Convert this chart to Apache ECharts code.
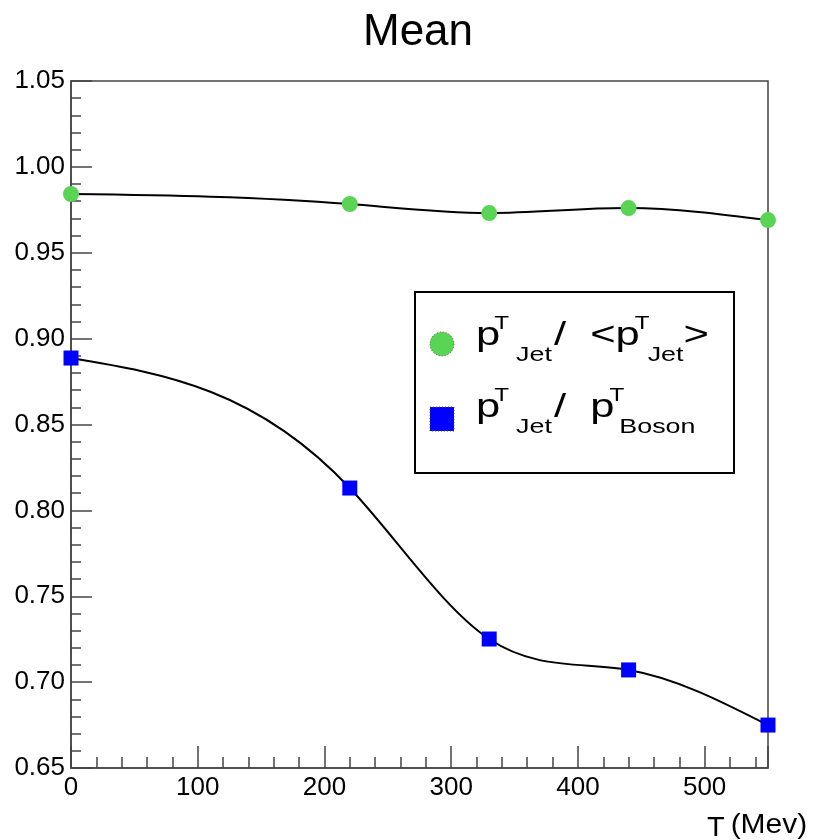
<!DOCTYPE html>
<html>
<head>
<meta charset="utf-8">
<script src="https://cdn.jsdelivr.net/npm/echarts@6/dist/echarts.min.js"></script>
<style>
  html, body { margin: 0; padding: 0; background: #fff; }
  #chart { width: 814px; height: 840px; }
</style>
</head>
<body>
<div id="chart"></div>
<script>
// Temperature points (MeV) and the two mean ratios measured at each
const temperatures = [0, 220, 330, 440, 550];
const jetOverMeanJet = [0.9842, 0.9784, 0.9731, 0.9760, 0.9690];
const jetOverBoson = [0.8887, 0.8130, 0.7251, 0.7071, 0.6750];
const seriesNames = ['pT_Jet / <pT_Jet>', 'pT_Jet / pT_Boson'];

const FONT = '"Liberation Sans", Arial, Helvetica, sans-serif';
const GREEN = '#59d454';
const BLUE = '#0000ff';
const AXIS = '#444';

function pairs(xs, ys) { return xs.map((x, i) => [x, ys[i]]); }

// Natural cubic spline slopes (dy/dx) at each knot
function splineSlopes(xs, ys) {
  const n = xs.length;
  const h = [], s = [];
  for (let i = 0; i < n - 1; i++) {
    h.push(xs[i + 1] - xs[i]);
    s.push((ys[i + 1] - ys[i]) / h[i]);
  }
  const M = new Array(n).fill(0);
  const m = n - 2;
  if (m > 0) {
    const a = [], b = [], c = [], r = [];
    for (let k = 0; k < m; k++) {
      const i = k + 1;
      a.push(h[i - 1]); b.push(2 * (h[i - 1] + h[i])); c.push(h[i]);
      r.push(6 * (s[i] - s[i - 1]));
    }
    for (let k = 1; k < m; k++) {
      const w = a[k] / b[k - 1];
      b[k] -= w * c[k - 1];
      r[k] -= w * r[k - 1];
    }
    const sol = new Array(m);
    sol[m - 1] = r[m - 1] / b[m - 1];
    for (let k = m - 2; k >= 0; k--) sol[k] = (r[k] - c[k] * sol[k + 1]) / b[k];
    for (let k = 0; k < m; k++) M[k + 1] = sol[k];
  }
  const d = [];
  for (let i = 0; i < n - 1; i++) d.push(s[i] - h[i] * (2 * M[i] + M[i + 1]) / 6);
  d.push(s[n - 2] + h[n - 2] * (M[n - 2] + 2 * M[n - 1]) / 6);
  return d;
}

// Smooth curve through the points, one Bezier segment per interval
function curveSeries(xs, ys) {
  const d = splineSlopes(xs, ys);
  return {
    type: 'custom',
    data: pairs(xs, ys),
    z: 2,
    silent: true,
    renderItem(params, api) {
      const i = params.dataIndex;
      if (i >= xs.length - 1) return null;
      const x0 = xs[i], y0 = ys[i], x1 = xs[i + 1], y1 = ys[i + 1];
      const hh = x1 - x0;
      const p0 = api.coord([x0, y0]);
      const p1 = api.coord([x1, y1]);
      const c1 = api.coord([x0 + hh / 3, y0 + d[i] * hh / 3]);
      const c2 = api.coord([x1 - hh / 3, y1 - d[i + 1] * hh / 3]);
      return {
        type: 'bezierCurve',
        shape: { x1: p0[0], y1: p0[1], x2: p1[0], y2: p1[1],
                 cpx1: c1[0], cpy1: c1[1], cpx2: c2[0], cpy2: c2[1] },
        style: { stroke: '#000', lineWidth: 2, fill: 'none' }
      };
    }
  };
}

// Lay out a line of text with superscripts / subscripts
const measureCtx = document.createElement('canvas').getContext('2d');
function latexLine(frags, x0, baseline, stretch) {
  const out = [];
  let x = x0;
  frags.forEach(f => {
    x += (f.dx || 0);
    measureCtx.font = f.size + 'px ' + FONT;
    const w = measureCtx.measureText(f.t).width * stretch;
    out.push({
      type: 'text',
      x: x, y: baseline + (f.dy || 0) - 0.35 * f.size,
      scaleX: stretch,
      style: { text: f.t, fontFamily: FONT, fontSize: f.size, fill: '#000',
               align: 'left', verticalAlign: 'middle' },
      silent: true
    });
    x += w;
  });
  return out;
}

const MAIN = 34, SUP = 19, SUB = 21;
const row1 = [
  { t: 'p', size: MAIN },
  { t: 'T', size: SUP, dy: -18, dx: -6 },
  { t: 'Jet', size: SUB, dy: 15, dx: 7 },
  { t: '/  <p', size: MAIN, dx: 2 },
  { t: 'T', size: SUP, dy: -18, dx: -5 },
  { t: 'Jet', size: SUB, dy: 15, dx: -2 },
  { t: '>', size: MAIN, dx: 0 }
];
const row2 = [
  { t: 'p', size: MAIN },
  { t: 'T', size: SUP, dy: -18, dx: -6 },
  { t: 'Jet', size: SUB, dy: 15, dx: 7 },
  { t: '/  p', size: MAIN, dx: 2 },
  { t: 'T', size: SUP, dy: -18, dx: -5 },
  { t: 'Boson', size: SUB, dy: 15, dx: -5 }
];

const chart = echarts.init(document.getElementById('chart'), null, { renderer: 'canvas' });

chart.setOption({
  backgroundColor: '#fff',
  animation: false,
  title: {
    text: 'Mean',
    left: 363, top: 11, padding: 0,
    textStyle: { fontFamily: FONT, fontSize: 44, fontWeight: 'normal', color: '#000' }
  },
  grid: {
    left: 71, right: 46, top: 81, bottom: 72,
    show: true, borderColor: AXIS, borderWidth: 1.5, backgroundColor: 'transparent'
  },
  xAxis: {
    type: 'value',
    min: 0, max: 550, interval: 100,
    axisLine: { show: true, onZero: false, lineStyle: { color: AXIS, width: 1.5 } },
    axisTick: { show: true, inside: true, length: 22, lineStyle: { color: AXIS, width: 1.5 } },
    minorTick: { show: true, splitNumber: 5, length: 11, lineStyle: { color: AXIS, width: 1.5 } },
    splitLine: { show: false },
    axisLabel: { margin: 7, fontFamily: FONT, fontSize: 26, color: '#000', showMaxLabel: false }
  },
  yAxis: {
    type: 'value',
    min: 0.65, max: 1.05, interval: 0.05,
    axisLine: { show: true, onZero: false, lineStyle: { color: AXIS, width: 1.5 } },
    axisTick: { show: true, inside: true, length: 21, lineStyle: { color: AXIS, width: 1.5 } },
    minorTick: { show: true, splitNumber: 5, length: 10, lineStyle: { color: AXIS, width: 1.5 } },
    splitLine: { show: false },
    axisLabel: { margin: 6, fontFamily: FONT, fontSize: 26, color: '#000',
                 formatter: v => v.toFixed(2) }
  },
  graphic: [
    // axis title
    ...latexLine([{ t: 'T', size: 27, dy: 3 }, { t: '(Mev)', size: 28, dx: 6 }], 707, 835, 1.07),
    // legend box
    {
      type: 'group', z: 10,
      children: [
        { type: 'rect', shape: { x: 415, y: 292, width: 319, height: 181 },
          style: { fill: '#fff', stroke: '#000', lineWidth: 2 } },
        { type: 'circle', shape: { cx: 442, cy: 344, r: 12 },
          style: { fill: GREEN, stroke: '#555', lineWidth: 1, lineDash: [1, 2] } },
        { type: 'rect', shape: { x: 430, y: 407, width: 24, height: 24 },
          style: { fill: BLUE, stroke: '#555', lineWidth: 1, lineDash: [1, 2] } },
        ...latexLine(row1, 476, 348, 1.28),
        ...latexLine(row2, 476, 420, 1.28)
      ]
    }
  ],
  series: [
    curveSeries(temperatures, jetOverMeanJet),
    curveSeries(temperatures, jetOverBoson),
    {
      name: seriesNames[0],
      type: 'line',
      data: pairs(temperatures, jetOverMeanJet),
      symbol: 'circle', symbolSize: 16,
      itemStyle: { color: GREEN },
      lineStyle: { opacity: 0 },
      z: 4
    },
    {
      name: seriesNames[1],
      type: 'line',
      data: pairs(temperatures, jetOverBoson),
      symbol: 'rect', symbolSize: 15,
      itemStyle: { color: BLUE },
      lineStyle: { opacity: 0 },
      z: 4
    }
  ]
});
</script>
</body>
</html>
